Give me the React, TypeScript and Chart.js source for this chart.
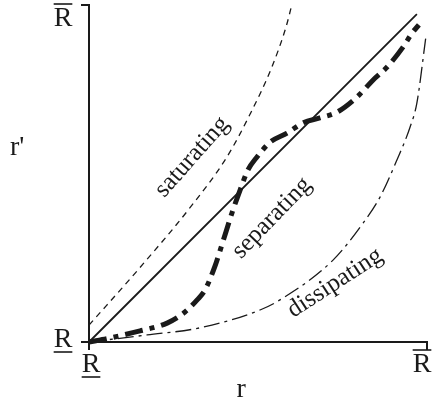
import React, { useEffect, useRef } from "react";
import { Chart, registerables } from "chart.js";

Chart.register(...registerables);

// Curves in normalised units: both axes run from the lower bound (0) to the upper bound (1).
const diagonalX = [0, 0.97];
const diagonalY = [0, 0.973];

const saturatingX = [0, 0.15, 0.3, 0.408, 0.476, 0.541, 0.583, 0.6];
const saturatingY = [0.05, 0.22, 0.4, 0.549, 0.675, 0.816, 0.935, 1.0];

const dissipatingX = [0, 0.172, 0.328, 0.506, 0.565, 0.722, 0.811, 0.861, 0.911, 0.95, 0.97, 0.996];
const dissipatingY = [0, 0.021, 0.042, 0.095, 0.125, 0.243, 0.353, 0.43, 0.54, 0.638, 0.709, 0.9];

const separatingX = [0, 0.062, 0.151, 0.231, 0.284, 0.32, 0.343, 0.373, 0.393, 0.423, 0.447, 0.47, 0.497, 0.536, 0.586, 0.633, 0.683, 0.734, 0.793, 0.84, 0.882, 0.929, 0.956, 0.976];
const separatingY = [0, 0.012, 0.033, 0.056, 0.089, 0.125, 0.154, 0.226, 0.288, 0.383, 0.451, 0.51, 0.549, 0.593, 0.62, 0.65, 0.665, 0.682, 0.727, 0.777, 0.816, 0.875, 0.917, 0.941];

// Axis end labels: R underlined at the lower bound, R overlined at the upper bound.
const boundValues = [0, 1];
const boundText = ["R", "R"];
const boundMarks = ["under", "over"];

const xTitle = "r";
const yTitle = "r'";

// Region names written along the curves.
const regionNames = ["saturating", "separating", "dissipating"];
const regionAnchorX = [0.305, 0.541, 0.728];
const regionAnchorY = [0.549, 0.368, 0.175];
const regionAngle = [-48.5, -46, -33];

const INK = "#1a1a1a";
const SERIF = "'Liberation Serif', 'DejaVu Serif', serif";

const toPoints = (xs: number[], ys: number[]) => xs.map((x, i) => ({ x, y: ys[i] }));

const framePlugin = {
  id: "frame",
  afterDatasetsDraw(chart: any) {
    const { ctx } = chart;
    const xs = chart.scales.x;
    const ys = chart.scales.y;
    const x0 = xs.getPixelForValue(0);
    const x1 = xs.getPixelForValue(1);
    const y0 = ys.getPixelForValue(0);
    const y1 = ys.getPixelForValue(1);
    const tick = 8;

    ctx.save();
    ctx.strokeStyle = INK;
    ctx.lineWidth = 2;
    ctx.lineCap = "butt";
    ctx.lineJoin = "miter";
    ctx.setLineDash([]);
    ctx.beginPath();
    ctx.moveTo(x0 - tick, y0);
    ctx.lineTo(x1, y0);
    ctx.lineTo(x1, y0 + tick);
    ctx.moveTo(x0, y0 + tick);
    ctx.lineTo(x0, y1);
    ctx.lineTo(x0 - tick, y1);
    ctx.stroke();

    // Bound labels
    ctx.fillStyle = INK;
    ctx.font = `28px ${SERIF}`;
    ctx.textAlign = "center";
    ctx.textBaseline = "alphabetic";
    ctx.lineWidth = 1.6;
    const drawBound = (cx: number, base: number, text: string, mark: string) => {
      ctx.fillText(text, cx, base);
      const w = ctx.measureText(text).width;
      const ly = mark === "under" ? base + 5 : base - 22;
      ctx.beginPath();
      ctx.moveTo(cx - w / 2, ly);
      ctx.lineTo(cx + w / 2, ly);
      ctx.stroke();
    };
    boundValues.forEach((v, i) => {
      // y axis
      const py = ys.getPixelForValue(v);
      drawBound(x0 - 26, v === 0 ? py + 5 : py + 21, boundText[i], boundMarks[i]);
      // x axis
      const px = xs.getPixelForValue(v);
      drawBound(v === 0 ? px + 2 : px - 5, y0 + 30, boundText[i], boundMarks[i]);
    });

    // Axis titles
    ctx.font = `28px ${SERIF}`;
    ctx.textAlign = "left";
    ctx.fillText(yTitle, 10, ys.getPixelForValue(0.555));
    ctx.textAlign = "center";
    ctx.fillText(xTitle, xs.getPixelForValue(0.45), y0 + 55);

    // Region names
    ctx.font = `25px ${SERIF}`;
    ctx.textAlign = "center";
    ctx.textBaseline = "middle";
    regionNames.forEach((name, i) => {
      ctx.save();
      ctx.translate(xs.getPixelForValue(regionAnchorX[i]), ys.getPixelForValue(regionAnchorY[i]));
      ctx.rotate((regionAngle[i] * Math.PI) / 180);
      ctx.fillText(name, 0, 0);
      ctx.restore();
    });
    ctx.restore();
  },
};

export default function App() {
  const canvasRef = useRef<HTMLCanvasElement | null>(null);

  useEffect(() => {
    const canvas = canvasRef.current;
    if (!canvas) return;
    const common = {
      showLine: true,
      pointRadius: 0,
      pointHoverRadius: 0,
      fill: false,
      borderColor: INK,
      clip: false as any,
      cubicInterpolationMode: "monotone" as const,
      borderCapStyle: "butt" as const,
    };
    const chart = new Chart(canvas, {
      type: "scatter",
      data: {
        datasets: [
          { ...common, label: "diagonal", data: toPoints(diagonalX, diagonalY), borderWidth: 1.8 },
          { ...common, label: "saturating", data: toPoints(saturatingX, saturatingY), borderWidth: 1.3, borderDash: [6, 5] },
          { ...common, label: "dissipating", data: toPoints(dissipatingX, dissipatingY), borderWidth: 1.3, borderDash: [16, 5, 3, 5] },
          { ...common, label: "separating", data: toPoints(separatingX, separatingY), borderWidth: 5, borderDash: [18, 7, 5, 7] },
        ],
      },
      options: {
        animation: false,
        responsive: false,
        events: [],
        layout: { padding: { left: 89, right: 5, top: 5, bottom: 64 } },
        scales: {
          x: { type: "linear", min: 0, max: 1, display: false },
          y: { type: "linear", min: 0, max: 1, display: false },
        },
        plugins: { legend: { display: false }, tooltip: { enabled: false } },
      },
      plugins: [framePlugin],
    });
    return () => chart.destroy();
  }, []);

  return (
    <div style={{ position: "fixed", left: 0, top: 0, width: 432, height: 406, background: "#fff" }}>
      <canvas ref={canvasRef} width={432} height={406} style={{ display: "block" }} />
    </div>
  );
}
